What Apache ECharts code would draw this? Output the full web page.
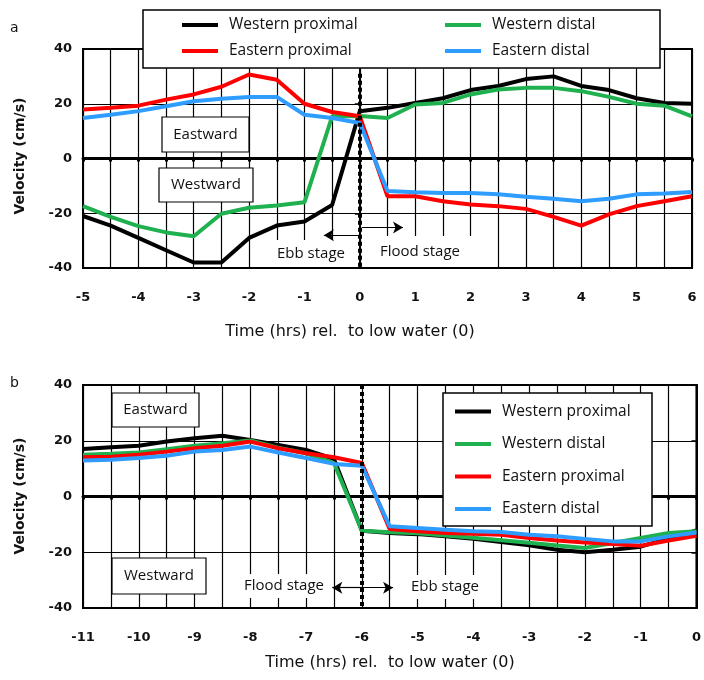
<!DOCTYPE html>
<html>
<head>
<meta charset="utf-8">
<script src="https://cdn.jsdelivr.net/npm/echarts@6/dist/echarts.min.js"></script>
<style>
  html, body { margin: 0; padding: 0; background: #fff; }
  #chart { width: 704px; height: 680px; }
</style>
</head>
<body>
<div id="chart"></div>
<script>
// series names
var names = ['Western proximal', 'Western distal', 'Eastern proximal', 'Eastern distal'];
var colors = ['#000000', '#1fb14f', '#ff0000', '#2f9cff'];

// panel a: hours rel. to low water
var timeA = [-5, -4.5, -4, -3.5, -3, -2.5, -2, -1.5, -1, -0.5, 0, 0.5, 1, 1.5, 2, 2.5, 3, 3.5, 4, 4.5, 5, 5.5, 6];
var westProxA = [-21, -24.5, -29, -33.5, -38, -38, -29, -24.5, -23, -17, 17.3, 18.5, 20.3, 22, 25, 26.5, 29, 30, 26.5, 25, 22, 20.3, 20];
var westDistA = [-17.4, -21.3, -24.7, -27, -28.4, -20.2, -18, -17.2, -16, 15.4, 15.5, 14.8, 19.7, 20.3, 23.4, 25.2, 25.8, 25.8, 24.6, 22.5, 20, 19.3, 15.4];
var eastProxA = [17.9, 18.5, 19.3, 21.5, 23.4, 26.2, 30.7, 28.8, 20, 17, 15.4, -13.8, -13.8, -15.6, -16.8, -17.4, -18.4, -21.3, -24.5, -20.4, -17.4, -15.6, -13.8];
var eastDistA = [14.8, 16, 17.3, 19.1, 20.9, 21.8, 22.5, 22.5, 16, 14.8, 13, -11.9, -12.3, -12.6, -12.6, -13.1, -14, -14.7, -15.6, -14.7, -13.1, -12.8, -12.2];

// panel b
var timeB = [-11, -10.5, -10, -9.5, -9, -8.5, -8, -7.5, -7, -6.5, -6, -5.5, -5, -4.5, -4, -3.5, -3, -2.5, -2, -1.5, -1, -0.5, 0];
var westProxB = [17, 17.7, 18.2, 19.7, 20.9, 21.8, 20.3, 18.5, 16.7, 13.5, -12.3, -13.1, -13.5, -14.3, -15.2, -16.3, -17.5, -19.1, -20, -19.1, -18, -15, -12.2];
var westDistB = [15, 15.3, 15.8, 17, 18.2, 19.1, 20.1, 17.5, 15.5, 12, -12.3, -12.8, -13.2, -14, -14.8, -15.7, -16.6, -17.6, -18.5, -16.7, -14.9, -13.1, -12.5];
var eastProxB = [14.1, 14.3, 15, 16.1, 17.3, 18.2, 19.7, 17.3, 15.5, 14.1, 12, -11.7, -12.5, -13.1, -13.4, -13.7, -14.9, -15.8, -16.5, -17, -17.7, -15.8, -14.1];
var eastDistB = [12.9, 13.2, 13.8, 14.6, 16.1, 16.7, 17.9, 15.8, 13.8, 11.7, 11, -10.7, -11.3, -11.9, -12.5, -12.7, -13.7, -14.3, -15.2, -16.1, -16.1, -14.3, -12.9];

var yTicks = { min: -40, max: 40, interval: 20 };

var tickFont = { fontFamily: 'DejaVu Sans', fontWeight: 'bold', fontSize: 13, color: '#111' };
var textFont = '15px "Open Sans"';
var axisNameFont = '16px "DejaVu Sans"';

function pairs(xs, ys) {
  return xs.map(function (x, i) { return [x, ys[i]]; });
}

function mainX(gridIndex, min, max) {
  return {
    type: 'value', gridIndex: gridIndex, min: min, max: max, interval: 1,
    position: 'bottom',
    axisLine: { onZero: false, lineStyle: { color: '#000', width: 2 } },
    axisTick: { show: false },
    axisLabel: Object.assign({ margin: 23 }, tickFont),
    splitLine: { show: true, lineStyle: { color: '#000', width: 1.2 } },
    minorTick: { show: false, splitNumber: 2 },
    minorSplitLine: { show: true, lineStyle: { color: '#000', width: 1.2 } }
  };
}

function zeroX(gridIndex, min, max) {
  return {
    type: 'value', gridIndex: gridIndex, min: min, max: max, interval: 0.5,
    position: 'bottom',
    axisLine: { onZero: true, lineStyle: { color: '#000', width: 3 } },
    axisTick: { show: true, length: 3, lineStyle: { color: '#000', width: 3 } },
    axisLabel: { show: false },
    splitLine: { show: false }
  };
}

function yAx(gridIndex) {
  return {
    type: 'value', gridIndex: gridIndex, min: yTicks.min, max: yTicks.max, interval: yTicks.interval,
    axisLine: { show: true, lineStyle: { color: '#000', width: 2 } },
    axisTick: { show: true, length: 5, lineStyle: { color: '#000', width: 1.5 } },
    axisLabel: Object.assign({ margin: 11 }, tickFont),
    splitLine: { show: true, lineStyle: { color: '#000', width: 1.2 } }
  };
}

function lineSeries(name, idx, xAxisIndex, yAxisIndex, xs, ys) {
  return {
    type: 'line', name: name, xAxisIndex: xAxisIndex, yAxisIndex: yAxisIndex,
    data: pairs(xs, ys), symbol: 'none', silent: true,
    lineStyle: { color: colors[idx], width: 4 },
    itemStyle: { color: colors[idx] },
    z: 2
  };
}

function arrow(x0, x1, y) {
  return [{ coord: [x0, y], symbol: 'none' }, { coord: [x1, y], symbol: 'arrow', symbolSize: [9, 10] }];
}

var seriesA = [westProxA, westDistA, eastProxA, eastDistA].map(function (ys, i) {
  return lineSeries(names[i], i, 0, 0, timeA, ys);
});
var seriesB = [westProxB, westDistB, eastProxB, eastDistB].map(function (ys, i) {
  return lineSeries(names[i], i, 2, 1, timeB, ys);
});

// dotted low-water line and stage arrows
seriesA[0].markLine = {
  silent: true, animation: false, label: { show: false },
  data: [
    [{ coord: [0, 31], symbol: 'none', lineStyle: { type: [4, 3], width: 4, color: '#000' } },
     { coord: [0, -40], symbol: 'none' }],
    arrow(0, -0.65, -28),
    arrow(0.04, 0.78, -25.2)
  ],
  lineStyle: { color: '#000', width: 1.2, type: 'solid' }
};
seriesB[0].markLine = {
  silent: true, animation: false, label: { show: false },
  data: [
    [{ coord: [-6, 40], symbol: 'none', lineStyle: { type: [4, 3], width: 4, color: '#000' } },
     { coord: [-6, -40], symbol: 'none' }],
    arrow(-6, -6.53, -32.7),
    arrow(-6, -5.44, -32.7)
  ],
  lineStyle: { color: '#000', width: 1.2, type: 'solid' }
};

function labelBox(x, y, w, h, text, border) {
  return [
    { type: 'rect', z: 1, shape: { x: x, y: y, width: w, height: h },
      style: { fill: '#fff', stroke: border ? '#000' : null, lineWidth: 1.2 } },
    { type: 'text', z: 1, x: x + w / 2, y: y + h / 2,
      style: { text: text, font: textFont, fill: '#111', align: 'center', verticalAlign: 'middle' } }
  ];
}

var graphics = [].concat(
  // legend frames
  [{ type: 'rect', z: 3, shape: { x: 143, y: 10, width: 517, height: 58 }, style: { fill: '#fff', stroke: '#000', lineWidth: 1.5 } },
   { type: 'rect', z: 3, shape: { x: 443, y: 393, width: 209, height: 133 }, style: { fill: '#fff', stroke: '#000', lineWidth: 1.5 } }],
  labelBox(162, 117, 87, 35, 'Eastward', true),
  labelBox(159, 168, 94, 34, 'Westward', true),
  labelBox(268, 240, 86, 27, 'Ebb stage', false),
  labelBox(366, 236, 108, 31, 'Flood stage', false),
  labelBox(112, 393, 87, 34, 'Eastward', true),
  labelBox(112, 558, 94, 36, 'Westward', true),
  labelBox(240, 574, 88, 24, 'Flood stage', false),
  labelBox(405, 575, 80, 24, 'Ebb stage', false),
  [
    { type: 'text', x: 10, y: 28, style: { text: 'a', font: '14px "DejaVu Sans"', fill: '#111', verticalAlign: 'middle' } },
    { type: 'text', x: 10, y: 383, style: { text: 'b', font: '14px "DejaVu Sans"', fill: '#111', verticalAlign: 'middle' } },
    { type: 'text', x: 20, y: 156, rotation: Math.PI / 2,
      style: { text: 'Velocity (cm/s)', font: 'bold 14px "DejaVu Sans"', fill: '#111', align: 'center', verticalAlign: 'middle' } },
    { type: 'text', x: 20, y: 496, rotation: Math.PI / 2,
      style: { text: 'Velocity (cm/s)', font: 'bold 14px "DejaVu Sans"', fill: '#111', align: 'center', verticalAlign: 'middle' } },
    { type: 'text', x: 350, y: 332,
      style: { text: 'Time (hrs) rel.  to low water (0)', font: axisNameFont, fill: '#111', align: 'center', verticalAlign: 'middle' } },
    { type: 'text', x: 390, y: 663,
      style: { text: 'Time (hrs) rel.  to low water (0)', font: axisNameFont, fill: '#111', align: 'center', verticalAlign: 'middle' } }
  ]
);

var legendText = { fontFamily: 'Open Sans', fontSize: 15.5, color: '#111', padding: [0, 0, 0, 6] };
function oneLegend(name, left, top) {
  return {
    data: [name], left: left, top: top, z: 5,
    icon: 'rect', itemWidth: 36, itemHeight: 4, itemGap: 0, padding: 0,
    textStyle: legendText, selectedMode: false
  };
}

var option = {
  animation: false,
  backgroundColor: '#fff',
  grid: [
    { left: 83, top: 49, width: 609, height: 219, show: true, borderColor: '#000', borderWidth: 2, backgroundColor: 'transparent' },
    { left: 83, top: 385, width: 614, height: 223, show: true, borderColor: '#000', borderWidth: 2, backgroundColor: 'transparent' }
  ],
  xAxis: [mainX(0, -5, 6), zeroX(0, -5, 6), mainX(1, -11, 0), zeroX(1, -11, 0)],
  yAxis: [yAx(0), yAx(1)],
  legend: [
    oneLegend(names[0], 182, 17),
    oneLegend(names[1], 445, 17),
    oneLegend(names[2], 182, 43),
    oneLegend(names[3], 445, 43),
    {
      data: names, left: 455, top: 401, orient: 'vertical', z: 5,
      icon: 'rect', itemWidth: 36, itemHeight: 4, itemGap: 11.5, padding: 0,
      textStyle: Object.assign({}, legendText, { lineHeight: 21 }), selectedMode: false
    }
  ],
  graphic: graphics,
  series: seriesA.concat(seriesB)
};

var chart = echarts.init(document.getElementById('chart'), null, { renderer: 'canvas' });
chart.setOption(option);
</script>
</body>
</html>
